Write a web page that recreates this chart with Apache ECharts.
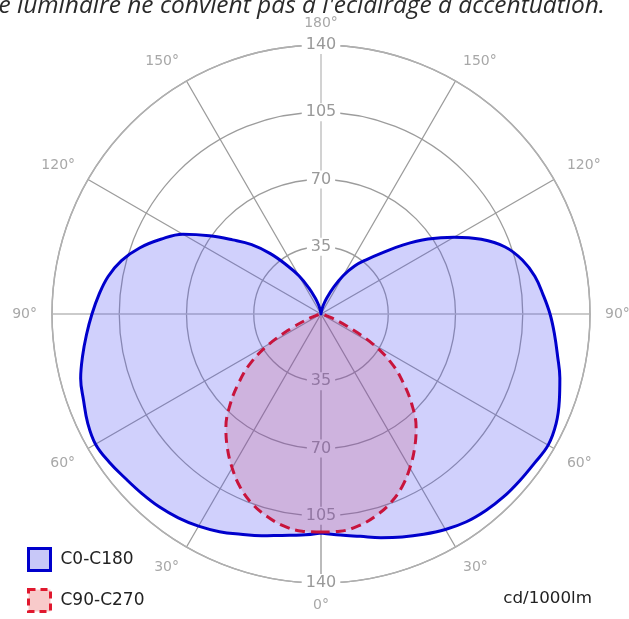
<!DOCTYPE html>
<html>
<head>
<meta charset="utf-8">
<script src="https://cdn.jsdelivr.net/npm/echarts@6/dist/echarts.min.js"></script>
<style>
html,body{margin:0;padding:0;background:#fff;}
#chart{width:629px;height:619px;}
</style>
</head>
<body>
<div id="chart"></div>
<script>
// gamma angles (0 = straight down, 180 = straight up)
const gammaAngles = [0,5,10,15,20,25,30,35,40,45,50,55,60,65,70,75,80,85,90,95,100,105,110,115,120,125,130,135,140,145,150,155,160,165,170,175,180];
// C180 half-plane (drawn on the left), cd/1000lm
const c180Values = [114,115.5,117,119.5,122,125,127.5,129.5,131,132,133,134.5,135.5,134,131.5,129.5,126,122.5,119.2,116,112.5,107.5,100.5,92,83,71,60,51,41,31,23,15,9,5,2,0.5,0];
// C0 half-plane (drawn on the right), cd/1000lm
const c0Values = [114,115.5,117.5,120.5,123.5,126.5,129.5,132,133.5,134.5,135,135.5,136.5,135,132,128.7,125,122,119.2,116,113,108.5,102,92,80,68,56,45,37,30.5,23,15,9,5,2,0.5,0];
// C90 / C270 half-planes (symmetric), cd/1000lm
const redAngles = [0,5,10,15,20,25,30,35,40,45,50,55,60,65,70,75,80,85,90];
const c90Values = [113.5,113.5,112,109,105,99.5,92.5,85,77,67,56,45,31,15,6,2,0.5,0,0];
const c270Values = [113.5,113.5,112,109,105,99.5,92.5,85,77,67,56,45,31,15,6,2,0.5,0,0];

const radiusTicks = [35,70,105,140];
const angleTickLabels = ['0°','30°','60°','90°','120°','150°','180°','150°','120°','90°','60°','30°'];
const seriesNames = ['C0-C180','C90-C270'];

function loop(angles, leftVals, rightVals){
  const d = [];
  for (let i = 0; i < angles.length; i++) d.push([leftVals[i], angles[i]]);
  for (let i = angles.length - 1; i >= 0; i--) d.push([rightVals[i], 360 - angles[i]]);
  return d;
}

const chart = echarts.init(document.getElementById('chart'), null, {renderer:'canvas'});
const labelFont = 'DejaVu Sans';
const option = {
  animation:false,
  backgroundColor:'#fff',
  polar:[
    {center:[321,314], radius:269},
    {center:[321,314], radius:269}
  ],
  angleAxis:[
    {
      polarIndex:0, type:'value', min:0, max:360, interval:30, startAngle:-90, clockwise:true,
      axisLine:{show:true, lineStyle:{color:'#b0b0b0', width:1.5}},
      axisTick:{show:false},
      splitLine:{show:true, lineStyle:{color:['#bbbbbb','#9c9c9c','#9c9c9c'], width:1.3}},
      axisLabel:{
        show:true, margin:15, color:'#a8a8a8', fontSize:14, fontFamily:labelFont,
        formatter:function(v){ if (v >= 360) return ''; return angleTickLabels[Math.round(v/30)]; }
      }
    },
    {
      polarIndex:1, type:'value', min:0, max:360, startAngle:90, show:false
    }
  ],
  radiusAxis:[
    {
      polarIndex:0, type:'value', min:0, max:140, interval:35,
      axisLine:{show:true, lineStyle:{color:'#bbbbbb', width:2}},
      axisTick:{show:false},
      splitLine:{show:true, lineStyle:{color:'#9c9c9c', width:1.3}},
      axisLabel:{
        show:true, margin:0, align:'center', verticalAlign:'middle', rotate:0,
        color:'#999999', fontSize:16, fontFamily:labelFont,
        formatter:function(v){ return radiusTicks.indexOf(v) >= 0 ? '{a|' + v + '}' : ''; },
        rich:{a:{backgroundColor:'#ffffff', padding:[1,4,1,4], color:'#999999', fontSize:16, fontFamily:labelFont}}
      }
    },
    {
      polarIndex:1, type:'value', min:0, max:140, interval:35,
      axisLine:{show:false}, axisTick:{show:false}, splitLine:{show:false},
      axisLabel:{
        show:true, margin:0, align:'center', verticalAlign:'middle', rotate:0,
        color:'#999999', fontSize:16, fontFamily:labelFont,
        formatter:function(v){ return radiusTicks.indexOf(v) >= 0 ? '{a|' + v + '}' : ''; },
        rich:{a:{backgroundColor:'#ffffff', padding:[1,4,1,4], color:'#999999', fontSize:16, fontFamily:labelFont}}
      }
    }
  ],
  legend:{
    orient:'vertical', left:27, top:547, padding:0, itemWidth:22, itemHeight:22, itemGap:16,
    textStyle:{color:'#222', fontSize:17, fontFamily:labelFont, padding:[0,0,0,5]},
    data:[
      {name:seriesNames[0], icon:'rect', itemStyle:{color:'#c8c8f8', borderColor:'#0000cc', borderWidth:3, borderType:'solid'}},
      {name:seriesNames[1], icon:'rect', itemStyle:{color:'#f8caca', borderColor:'#e0182e', borderWidth:3, borderType:[7,5]}}
    ],
    selectedMode:false
  },
  graphic:[
    {type:'text', left:-16, top:-6, z:100, style:{text:"Ce luminaire ne convient pas à l'éclairage à accentuation.", fontSize:24.5, fontStyle:'italic', fontFamily:'Open Sans', fill:'#2a2a2a'}},
    {type:'text', right:37, top:590, style:{text:'cd/1000lm', fontSize:16.7, fontFamily:labelFont, fill:'#222'}}
  ],
  series:[
    {
      name:seriesNames[0], type:'line', coordinateSystem:'polar', polarIndex:0,
      data:loop(gammaAngles, c180Values, c0Values), smooth:0.4, showSymbol:false,
      lineStyle:{color:'#0000cc', width:3},
      itemStyle:{color:'#0000cc'},
      areaStyle:{color:'rgba(80,80,245,0.38)'}
    },
    {
      name:seriesNames[1], type:'line', coordinateSystem:'polar', polarIndex:0,
      data:loop(redAngles, c270Values, c90Values), smooth:0.4, showSymbol:false,
      lineStyle:{color:'#c8143c', width:3, type:[10,6]},
      itemStyle:{color:'#c8143c'},
      areaStyle:{color:'rgba(200,60,100,0.28)'}
    }
  ]
};
chart.setOption(option);
</script>
</body>
</html>
